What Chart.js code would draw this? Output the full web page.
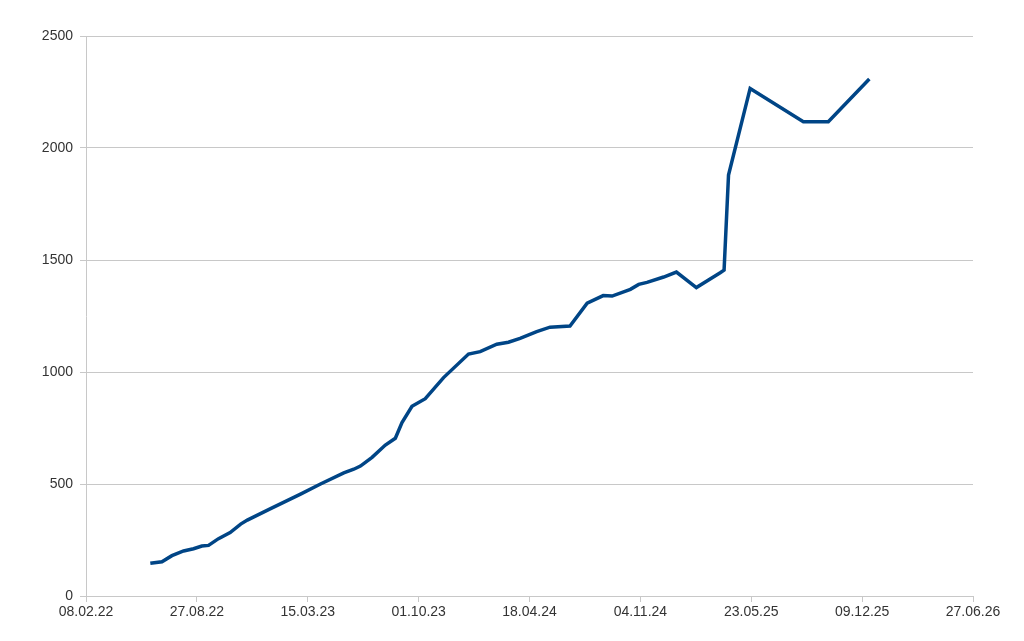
<!DOCTYPE html>
<html>
<head>
<meta charset="utf-8">
<script src="https://cdn.jsdelivr.net/npm/chart.js@4.4.1/dist/chart.umd.min.js"></script>
<style>
  html, body { margin: 0; padding: 0; background: #fff; }
  #wrap { width: 1024px; height: 641px; }
</style>
</head>
<body>
<div id="wrap"><canvas id="chart" width="1024" height="641"></canvas></div>
<script>
// Daten
const dates = [
  '2022-06-04', '2022-06-25', '2022-07-13', '2022-08-03', '2022-08-21', '2022-09-05',
  '2022-09-17', '2022-10-05', '2022-10-26', '2022-11-14', '2022-11-26', '2023-01-07',
  '2023-03-02', '2023-04-07', '2023-05-19', '2023-06-06', '2023-06-18', '2023-07-09',
  '2023-08-02', '2023-08-20', '2023-09-01', '2023-09-19', '2023-10-13', '2023-11-15',
  '2023-12-30', '2024-01-20', '2024-02-19', '2024-03-11', '2024-04-01', '2024-05-01',
  '2024-05-25', '2024-06-30', '2024-07-31', '2024-08-29', '2024-09-14', '2024-10-17',
  '2024-11-01', '2024-11-16', '2024-12-16', '2025-01-08', '2025-02-13', '2025-03-28',
  '2025-04-04', '2025-04-12', '2025-05-21', '2025-08-25', '2025-10-09', '2025-12-22'
];
const values = [
  146, 153, 180, 201, 211, 223,
  226, 256, 283, 321, 339, 390,
  455, 500, 550, 566, 580, 619,
  674, 704, 774, 847, 881, 975,
  1080, 1091, 1124, 1133, 1150, 1180,
  1200, 1205, 1307, 1341, 1339, 1369,
  1391, 1400, 1424, 1446, 1377, 1443,
  1455, 1879, 2266, 2117, 2117, 2308
];
const tickLabels = ['08.02.22', '27.08.22', '15.03.23', '01.10.23', '18.04.24', '04.11.24', '23.05.25', '09.12.25', '27.06.26'];
const yTicks = [0, 500, 1000, 1500, 2000, 2500];

const startDate = Date.UTC(2022, 1, 8);
function dayOf(s) {
  return Math.round((Date.parse(s) - startDate) / 86400000);
}

let points = dates.map(function(d, i) { return { x: dayOf(d), y: values[i] }; });

let ctx = document.getElementById('chart').getContext('2d');
new Chart(ctx, {
  type: 'line',
  data: {
    datasets: [{
      data: points,
      borderColor: '#004586',
      borderWidth: 3.5,
      pointRadius: 0,
      tension: 0,
      fill: false
    }]
  },
  options: {
    responsive: false,
    animation: false,
    layout: { padding: { top: 36, right: 51, left: 0, bottom: 0 } },
    plugins: { legend: { display: false }, tooltip: { enabled: false } },
    scales: {
      x: {
        type: 'linear',
        min: 0,
        max: 1600,
        afterBuildTicks: function(scale) {
          scale.ticks = tickLabels.map(function(t, i) { return { value: i * 200 }; });
        },
        ticks: {
          autoSkip: false,
          maxRotation: 0,
          padding: 2,
          color: '#333',
          font: { family: 'Liberation Sans', size: 14 },
          callback: function(v, i) { return tickLabels[i]; }
        },
        grid: { drawOnChartArea: false, drawTicks: true, tickLength: 6, color: '#c8c8c8' },
        border: { color: '#c8c8c8' },
        afterFit: function(scale) { scale.height = 45; }
      },
      y: {
        min: 0,
        max: 2500,
        afterBuildTicks: function(scale) {
          scale.ticks = yTicks.map(function(v) { return { value: v }; });
        },
        ticks: {
          padding: 7,
          color: '#333',
          font: { family: 'Liberation Sans', size: 14 },
          callback: function(v) { return String(v); }
        },
        grid: { color: '#c8c8c8', tickLength: 6 },
        border: { color: '#c8c8c8' },
        afterFit: function(scale) { scale.width = 86; }
      }
    }
  }
});
</script>
</body>
</html>
